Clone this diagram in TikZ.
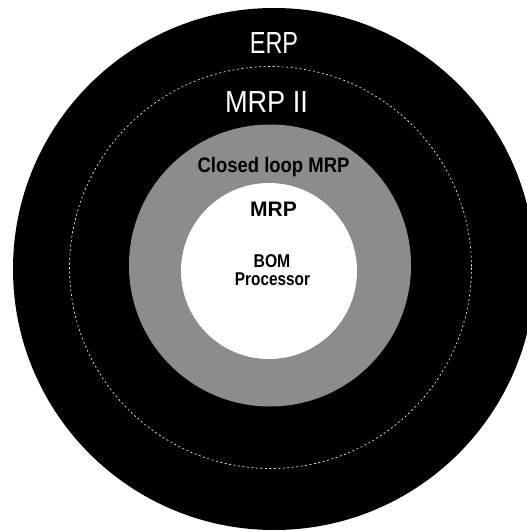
\documentclass[tikz,border=0pt]{standalone}
\usepackage{fontspec}
\setmainfont{Liberation Sans}
\usepackage{graphicx}
\newcommand{\squeeze}[2]{\scalebox{#1}[1]{#2}}

\tikzset{
  ringtext/.style={text=white, inner sep=0pt, anchor=base,
                   font=\fontsize{30.5}{30.5}\selectfont},
  coretext/.style={text=black, inner sep=0pt, anchor=base,
                   font=\fontsize{21}{21}\selectfont\bfseries},
  bomtext/.style={text=black, inner sep=0pt, anchor=base,
                  font=\fontsize{18.5}{18.5}\selectfont\bfseries}
}

\begin{document}
\begin{tikzpicture}[x=1pt,y=-1pt]
\useasboundingbox (0,0) rectangle (527,531);
\clip (0,0) rectangle (527,531);

% rings, outside in
\fill[black] (274,269) circle (261);
\draw[white, line width=0.6pt, dash pattern=on 2pt off 2.5pt] (270.5,267.5) circle (201);
\fill[black!45] (270,265.5) circle (141);
\fill[white] (269,271) circle (88);

% labels
\node[ringtext] (erp) at (274,53) {\squeeze{0.77}{ERP}};
\node[ringtext] (mrpii) at (266.5,112) {\squeeze{0.89}{MRP II}};
\node[coretext] (closed) at (273.5,172) {\squeeze{0.88}{Closed loop MRP}};
\node[coretext] (mrp) at (273.5,216) {MRP};
\node[bomtext] (bom) at (272,267) {\squeeze{0.85}{BOM}};
\node[bomtext] (proc) at (272.5,285) {\squeeze{0.83}{Processor}};
\end{tikzpicture}
\end{document}
